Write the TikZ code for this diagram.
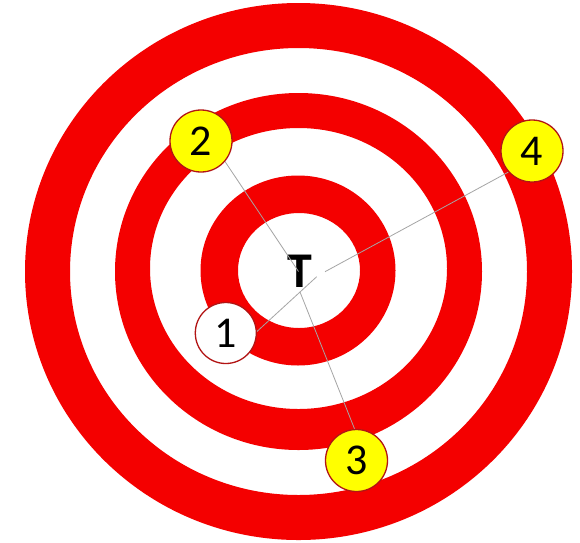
\documentclass[tikz,border=0pt]{standalone}
\usepackage{fontspec}
\setmainfont{Carlito}
\definecolor{ringred}{RGB}{244,0,0}
\definecolor{rimred}{RGB}{178,20,20}
\definecolor{markyellow}{RGB}{255,255,0}
\definecolor{linegray}{RGB}{165,165,165}
\tikzset{
  ring/.style={fill=ringred, even odd rule},
  marker/.style={circle, draw=rimred, line width=1.3pt, fill=markyellow, minimum size=62pt, inner sep=0pt, font=\fontsize{44}{44}\selectfont},
  markerwhite/.style={marker, fill=white, minimum size=61pt},
  guide/.style={draw=linegray, line width=0.8pt},
  target/.style={inner sep=0pt, font=\fontsize{50}{50}\selectfont\bfseries}
}
\begin{document}
\begin{tikzpicture}[x=1pt,y=-1pt]
\useasboundingbox[fill=white] (0,0) rectangle (580,542);
% rings
\fill[ring] (298.5,271.5) ellipse [x radius=273.5pt, y radius=268.5pt]
            (298.5,271.5) ellipse [x radius=228.5pt, y radius=223.5pt];
\fill[ring] (298.5,271.5) ellipse [x radius=183.5pt, y radius=178.5pt]
            (298.5,268.5) ellipse [x radius=148.5pt, y radius=140.5pt];
\fill[ring] (298,270.5) ellipse [x radius=97.5pt, y radius=95pt]
            (299,270.5) ellipse [x radius=61pt, y radius=57.5pt];
% centre label
\node[target] (T) at (299.7,271) {T};
% guide line end points
\coordinate (s2) at (225,161.5);
\coordinate (e2) at (298.5,271.5);
\coordinate (s4) at (508.5,172);
\coordinate (e4) at (325,271.7);
\coordinate (s1) at (256.7,331.7);
\coordinate (e1) at (316.7,276.7);
\coordinate (s3) at (355,430);
\coordinate (e3) at (300,292);
\draw[guide] (s2) -- (e2);
\draw[guide] (s4) -- (e4);
\draw[guide] (s1) -- (e1);
\draw[guide] (s3) -- (e3);
% markers
\node[marker] (c2) at (201,141) {2};
\node[marker] (c4) at (532,151) {4};
\node[marker] (c3) at (356.5,460.5) {3};
\node[markerwhite] (c1) at (225.8,333) {1};
\end{tikzpicture}
\end{document}
